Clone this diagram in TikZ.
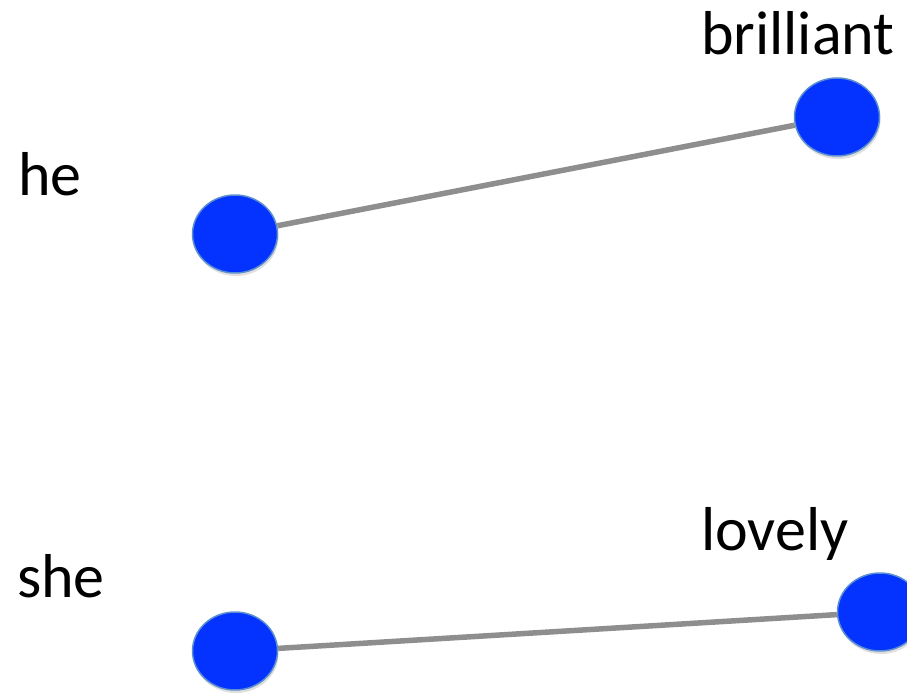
\documentclass[tikz,border=0pt]{standalone}
\usepackage{fontspec}
\setmainfont{Carlito}
\usepackage{xcolor}
\usetikzlibrary{shapes.geometric,shadows}
\definecolor{cB}{HTML}{0433FF}
\definecolor{cE}{HTML}{5B8FD0}
\definecolor{cG}{HTML}{8E8E8E}
\tikzset{
  word/.style={font=\fontsize{62}{70}\selectfont,anchor=base west,inner sep=0pt},
  vtx/.style={ellipse,draw=cE,line width=1.5pt,fill=cB,minimum width=85pt,
              minimum height=78pt,inner sep=0pt,
              drop shadow={opacity=.25,shadow xshift=1pt,shadow yshift=-3pt}},
  link/.style={line width=5.5pt,cG},
}

\begin{document}
\begin{tikzpicture}[x=1pt,y=-1pt]
  \useasboundingbox (0,0) rectangle (907,693);
  % words on the left, words on the right
  \node[word] (lhe) at (18,195) {he};
  \node[word] (lshe) at (17,597) {she};
  \node[word] (lbrilliant) at (701,55) {brilliant};
  \node[word] (llovely) at (701,550) {lovely};
  % their points
  \foreach \n/\x/\y in {he/235/234,she/235/651,brilliant/837/117,lovely/880/612}{
     \node[vtx] (v\n) at (\x,\y){};
  }
  \draw[link] (vhe) -- (vbrilliant);
  \draw[link] (vshe) -- (vlovely);
\end{tikzpicture}
\end{document}
